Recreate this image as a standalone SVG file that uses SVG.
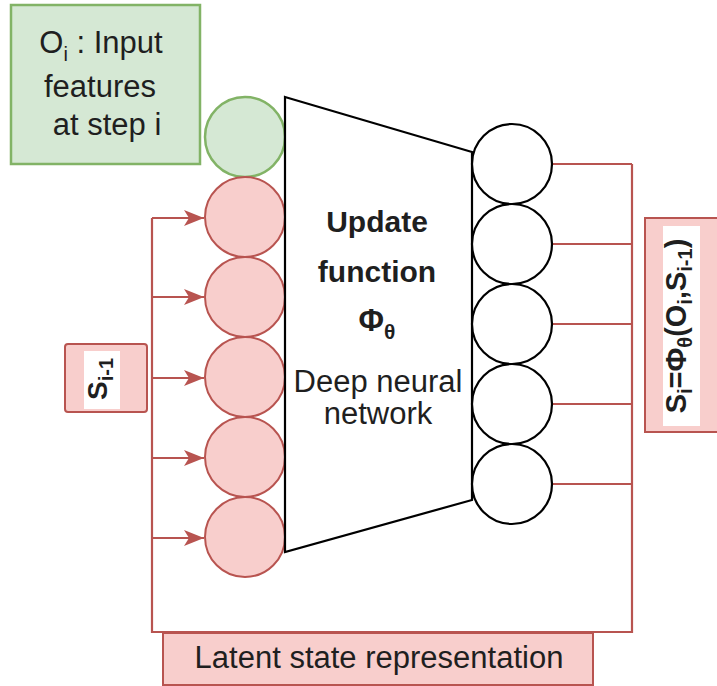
<svg xmlns="http://www.w3.org/2000/svg" width="717" height="686" viewBox="0 0 717 686">
<style>
text{font-family:"Liberation Sans",Arial,sans-serif;fill:#1f1f1f}
.g{fill:#d5e8d4;stroke:#82b366;stroke-width:2.5}
.r{fill:#f8cecc;stroke:#b85450;stroke-width:2}
.k{fill:#fff;stroke:#000;stroke-width:2.2}
.c{fill:none;stroke:#b85450;stroke-width:2.2}
.b{font-weight:bold}
</style>
<defs>
<marker id="ah" viewBox="0 0 20 16" refX="20" refY="8" markerWidth="20" markerHeight="16" markerUnits="userSpaceOnUse" orient="auto">
<path d="M0,0 L20,8 L0,16 L5,8 Z" fill="#b85450"/>
</marker>
</defs>
<g id="connectors">
<path class="c" d="M152,218 V632 H632 V164"/>
<path class="c" d="M152,218 H204" marker-end="url(#ah)"/>
<path class="c" d="M152,297 H204" marker-end="url(#ah)"/>
<path class="c" d="M152,378 H204" marker-end="url(#ah)"/>
<path class="c" d="M152,458 H204" marker-end="url(#ah)"/>
<path class="c" d="M152,538 H204" marker-end="url(#ah)"/>
<path class="c" d="M552,164 H632 M552,244 H632 M552,324 H632 M552,404 H632 M552,484 H632"/>
</g>
<g id="input-label">
<rect class="g" x="11" y="5" width="189" height="159"/>
<text x="101" y="53" text-anchor="middle" font-size="31">O<tspan font-size="20" dy="8">i</tspan><tspan dy="-8"> : Input</tspan></text>
<text x="100" y="97" text-anchor="middle" font-size="31">features</text>
<text x="107" y="135" text-anchor="middle" font-size="31">at step i</text>
</g>
<g id="input-node"><circle class="g" cx="245" cy="137" r="40"/></g>
<g id="state-nodes">
<circle class="r" cx="245" cy="217" r="40"/>
<circle class="r" cx="245" cy="297" r="40"/>
<circle class="r" cx="245" cy="377" r="40"/>
<circle class="r" cx="245" cy="457" r="40"/>
<circle class="r" cx="245" cy="537" r="40"/>
</g>
<g id="network">
<path d="M285,97 L472,152 L472,500 L285,552 Z" fill="#fff" stroke="#000" stroke-width="2.2"/>
<text x="377" y="232" text-anchor="middle" font-size="30" class="b">Update</text>
<text x="377" y="282" text-anchor="middle" font-size="30" class="b">function</text>
<text x="377" y="331" text-anchor="middle" font-size="31" class="b">Φ<tspan font-size="21" dy="8">θ</tspan></text>
<text x="378" y="392" text-anchor="middle" font-size="31">Deep neural</text>
<text x="378" y="424" text-anchor="middle" font-size="31">network</text>
</g>
<g id="output-nodes">
<circle class="k" cx="512" cy="164" r="40"/>
<circle class="k" cx="512" cy="244" r="40"/>
<circle class="k" cx="512" cy="324" r="40"/>
<circle class="k" cx="512" cy="404" r="40"/>
<circle class="k" cx="512" cy="484" r="40"/>
</g>
<g id="prev-state">
<rect class="r" x="65" y="344" width="82" height="68" rx="3"/>
<rect x="84" y="351" width="36" height="58" fill="#fff"/>
<text transform="translate(107,379) rotate(-90)" text-anchor="middle" font-size="28" class="b">S<tspan font-size="20" dy="6">i-1</tspan></text>
</g>
<g id="new-state">
<rect class="r" x="645" y="218" width="80" height="214"/>
<rect x="663" y="226" width="37" height="200" fill="#fff"/>
<text transform="translate(686,326) rotate(-90)" text-anchor="middle" font-size="29" class="b">S<tspan font-size="20" dy="6">i</tspan><tspan dy="-6">=Φ</tspan><tspan font-size="20" dy="6">θ</tspan><tspan dy="-6">(O</tspan><tspan font-size="20" dy="6">i</tspan><tspan dy="-6">,S</tspan><tspan font-size="20" dy="6">i-1</tspan><tspan dy="-6">)</tspan></text>
</g>
<g id="latent-label">
<rect class="r" x="163" y="633" width="430" height="52"/>
<text x="379" y="668" text-anchor="middle" font-size="31">Latent state representation</text>
</g>
</svg>
